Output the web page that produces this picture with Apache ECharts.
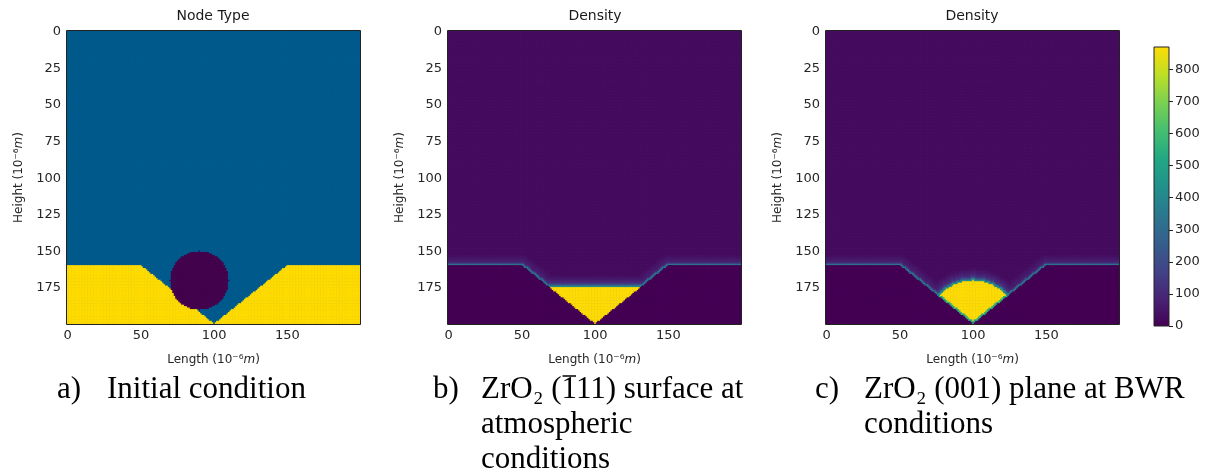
<!DOCTYPE html>
<html>
<head>
<meta charset="utf-8">
<script src="https://cdn.jsdelivr.net/npm/echarts@6/dist/echarts.min.js"></script>
<style>
  html, body { margin: 0; padding: 0; background: #fff; }
  #main { width: 1209px; height: 476px; }
</style>
</head>
<body>
<div id="main"></div>
<script>
// grid of 200 x 200 nodes, labels every 50 (x) and 25 (y)
var N = 200;
var cells = Array.from({length: N}, function (_, i) { return i; });
var xTicks = [0, 50, 100, 150];
var yTicks = [0, 25, 50, 75, 100, 125, 150, 175];
var barTicks = [0, 100, 200, 300, 400, 500, 600, 700, 800];

// substrate surface (solid below), V groove
var surfaceX = [0, 50, 100, 150, 199];
var surfaceY = [160, 160, 200, 160, 160];

// a) particle: centre x, centre y, radius
var particle = [90, 170, 20];
// node types: particle, fluid, solid
var nodeTypes = [0, 1, 3];
var nodeColors = ['#45024c', '#005a8c', '#ffdb00'];

// b) flat fill level of precipitate in groove
var fillLevelB = 175;
// c) precipitate cap: centre x, centre y, radius
var capC = [100, 200, 30];

// density: solid, fluid, precipitate
var densityLevels = [0, 28, 870];
// density of fluid nodes by distance (1, 2, 3 ...) from substrate / precipitate
var surfaceHalo = [330, 110, 78, 64, 55, 45, 36];
var precipHalo = [420, 230, 145, 100, 78, 62, 50, 38];
// precipitate nodes touching substrate (b, c)
var precipEdge = [870, 560];

var viridis = ['#440154', '#482475', '#414487', '#355f8d', '#2a788e', '#21918c',
  '#22a884', '#44bf70', '#7ad151', '#bddf26', '#fddc06'];

function surfaceAt(x) {
  for (var k = 0; k < surfaceX.length - 1; k++) {
    if (x <= surfaceX[k + 1]) {
      var t = (x - surfaceX[k]) / (surfaceX[k + 1] - surfaceX[k]);
      return surfaceY[k] + t * (surfaceY[k + 1] - surfaceY[k]);
    }
  }
  return surfaceY[surfaceY.length - 1];
}

var substrate = new Uint8Array(N * N);
for (var y = 0; y < N; y++) {
  for (var x = 0; x < N; x++) {
    substrate[y * N + x] = y >= Math.round(surfaceAt(x)) ? 1 : 0;
  }
}

// neighbour offsets sorted by distance
var R = 9;
var offsets = [];
for (var dy = -R; dy <= R; dy++) {
  for (var dx = -R; dx <= R; dx++) {
    if (dx || dy) offsets.push([dx, dy, Math.sqrt(dx * dx + dy * dy)]);
  }
}
offsets.sort(function (a, b) { return a[2] - b[2]; });

function nearest(mask, x, y) {
  for (var i = 0; i < offsets.length; i++) {
    var nx = x + offsets[i][0], ny = y + offsets[i][1];
    if (nx < 0 || ny < 0 || nx >= N || ny >= N) continue;
    if (mask[ny * N + nx]) return offsets[i][2];
  }
  return Infinity;
}

function haloValue(table, d) {
  var i = Math.round(d) - 1;
  return i < table.length ? table[i] : 0;
}

// node type field
var nodeData = [];
for (var y = 0; y < N; y++) {
  for (var x = 0; x < N; x++) {
    var ddx = x - particle[0], ddy = y - particle[1];
    var v = nodeTypes[1];
    if (substrate[y * N + x]) v = nodeTypes[2];
    if (ddx * ddx + ddy * ddy <= particle[2] * particle[2]) v = nodeTypes[0];
    nodeData.push([x, y, v]);
  }
}

function densityField(isPrecip, edge) {
  var precip = new Uint8Array(N * N);
  for (var y = 0; y < N; y++) {
    for (var x = 0; x < N; x++) {
      if (!substrate[y * N + x] && isPrecip(x, y)) precip[y * N + x] = 1;
    }
  }
  var out = [];
  for (var y = 0; y < N; y++) {
    for (var x = 0; x < N; x++) {
      var idx = y * N + x, v;
      if (substrate[idx]) {
        v = densityLevels[0];
      } else if (precip[idx]) {
        v = nearest(substrate, x, y) < 1.5 ? edge : densityLevels[2];
      } else {
        v = Math.max(densityLevels[1],
          haloValue(surfaceHalo, nearest(substrate, x, y)),
          haloValue(precipHalo, nearest(precip, x, y)));
      }
      out.push([x, y, v]);
    }
  }
  return out;
}

var densityB = densityField(function (x, y) { return y >= fillLevelB; }, precipEdge[0]);
var densityC = densityField(function (x, y) {
  var a = x - capC[0], b = y - capC[1];
  return a * a + b * b <= capC[2] * capC[2];
}, precipEdge[1]);

var chart = echarts.init(document.getElementById('main'));

var gridLeft = [67, 448, 826];
var gridTop = 31, gridSize = 293;
// colour behind the cells, hides hairline seams between them
var gridBack = ['#005a8c', '#460b57', '#460b57'];
var tickFont = {color: '#262626', fontSize: 13, fontFamily: 'DejaVu Sans'};
var nameFont = {color: '#262626', fontSize: 12, fontFamily: 'DejaVu Sans',
  rich: {i: {fontStyle: 'italic', fontSize: 12, fontFamily: 'DejaVu Sans', color: '#262626'}}};

var grids = [], xAxes = [], yAxes = [], series = [], graphics = [];
var fields = [nodeData, densityB, densityC];
for (var g = 0; g < 3; g++) {
  grids.push({left: gridLeft[g], top: gridTop, width: gridSize, height: gridSize, show: true,
    backgroundColor: gridBack[g], borderWidth: 0});
  xAxes.push({type: 'category', gridIndex: g, data: cells,
    name: 'Length (10⁻⁶{i|m})', nameLocation: 'middle', nameGap: 30, nameTextStyle: nameFont,
    axisLine: {show: false},
    axisTick: {alignWithLabel: true, length: 4, lineStyle: {color: '#222'},
      interval: function (i) { return xTicks.indexOf(i) >= 0; }},
    axisLabel: Object.assign({margin: 5, interval: function (i) { return xTicks.indexOf(i) >= 0; }}, tickFont),
    splitLine: {show: false}});
  yAxes.push({type: 'category', gridIndex: g, data: cells, inverse: true,
    name: 'Height (10⁻⁶{i|m})', nameLocation: 'middle', nameGap: 42, nameTextStyle: nameFont,
    axisLine: {show: false},
    axisTick: {alignWithLabel: true, length: 4, lineStyle: {color: '#222'},
      interval: function (i) { return yTicks.indexOf(i) >= 0; }},
    axisLabel: Object.assign({margin: 6, interval: function (i) { return yTicks.indexOf(i) >= 0; }}, tickFont),
    splitLine: {show: false}});
  series.push({type: 'heatmap', xAxisIndex: g, yAxisIndex: g, data: fields[g],
    progressive: 0, itemStyle: {borderWidth: 0}, emphasis: {disabled: true}});
  // plot frame
  graphics.push({type: 'rect', z: 100, silent: true,
    shape: {x: gridLeft[g] - 0.5, y: gridTop - 0.5, width: gridSize + 1, height: gridSize + 1},
    style: {fill: 'none', stroke: '#222', lineWidth: 1}});
}

// colour bar
grids.push({left: 1154, top: 47, width: 15, height: 279, show: true, z: 10,
  backgroundColor: 'transparent', borderColor: '#222', borderWidth: 1});
xAxes.push({type: 'category', gridIndex: 3, data: ['density'], show: false});
yAxes.push({type: 'value', gridIndex: 3, position: 'right', min: 0, max: densityLevels[2], interval: 100,
  axisLine: {show: false}, splitLine: {show: false},
  axisTick: {show: true, length: 4, lineStyle: {color: '#222'}},
  axisLabel: Object.assign({margin: 6, showMaxLabel: false,
    formatter: function (v) { return barTicks.indexOf(v) >= 0 ? v : ''; }}, tickFont)});
series.push({type: 'bar', xAxisIndex: 3, yAxisIndex: 3, data: [densityLevels[2]], barWidth: '100%',
  silent: true,
  itemStyle: {color: new echarts.graphic.LinearGradient(0, 1, 0, 0, viridis.map(function (c, i) {
    return {offset: i / (viridis.length - 1), color: c};
  }))}});

var titleFont = '14px "DejaVu Sans"';
var capFont = '31px "Liberation Serif"';
var capY = 390, capLine = 35;
var titles = [['Node Type', 213], ['Density', 595], ['Density', 972]];
var captions = [
  [57, 107, ['Initial condition']],
  [433, 481, ['ZrO₂ (111) surface at', 'atmospheric', 'conditions']],
  [815, 864, ['ZrO₂ (001) plane at BWR', 'conditions']]
];
titles.forEach(function (t) {
  graphics.push({type: 'text', x: t[1], y: 16, style: {text: t[0], font: titleFont, fill: '#1a1a1a',
    align: 'center', verticalAlign: 'middle'}});
});
['a)', 'b)', 'c)'].forEach(function (lab, i) {
  var c = captions[i];
  graphics.push({type: 'text', x: c[0], y: capY, style: {text: lab, font: capFont, fill: '#000',
    align: 'left', verticalAlign: 'middle'}});
  c[2].forEach(function (line, k) {
    graphics.push({type: 'text', x: c[1], y: capY + k * capLine, style: {text: line, font: capFont, fill: '#000',
      align: 'left', verticalAlign: 'middle'}});
  });
});
// bar over the first 1 of (111) in caption b
var ctx = document.createElement('canvas').getContext('2d');
ctx.font = capFont;
var barX = captions[1][1] + ctx.measureText('ZrO₂ (').width;
var barW = ctx.measureText('1').width;
graphics.push({type: 'line', silent: true,
  shape: {x1: barX + 1, y1: capY - 14, x2: barX + barW - 1, y2: capY - 14},
  style: {stroke: '#000', lineWidth: 1.5}});

var option = {
  animation: false,
  backgroundColor: '#fff',
  grid: grids,
  xAxis: xAxes,
  yAxis: yAxes,
  visualMap: [
    {type: 'piecewise', show: false, seriesIndex: 0,
      pieces: nodeTypes.map(function (v, i) { return {value: v, color: nodeColors[i]}; })},
    {type: 'continuous', show: false, seriesIndex: [1, 2], min: densityLevels[0], max: densityLevels[2],
      inRange: {color: viridis}}
  ],
  series: series,
  graphic: graphics
};

chart.setOption(option);
</script>
</body>
</html>
